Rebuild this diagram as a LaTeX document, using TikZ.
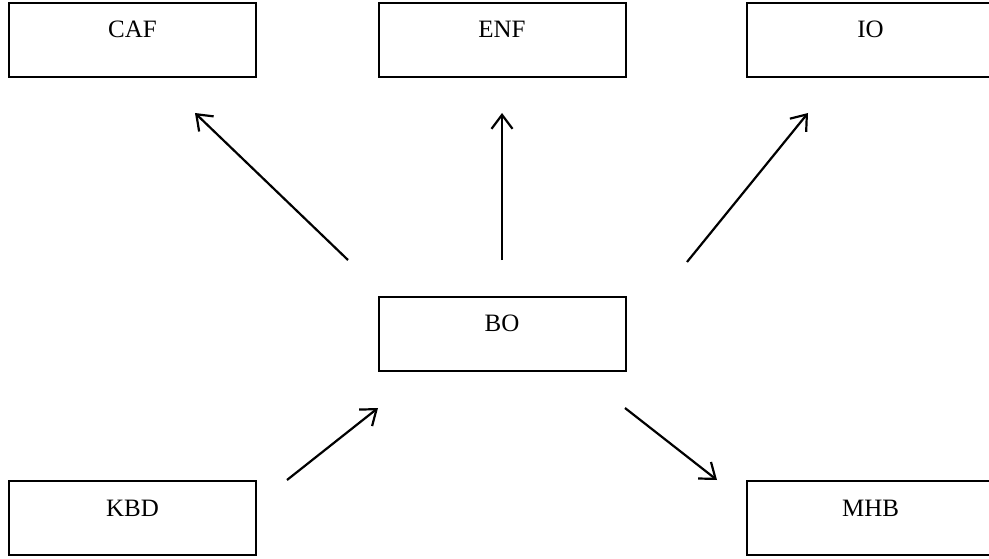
\documentclass[tikz,border=0pt]{standalone}
\usepackage{fontspec}
\setmainfont{Liberation Serif}
\usetikzlibrary{arrows.meta}
\tikzset{
  box/.style={draw, line width=2pt, rectangle, minimum width=247pt, inner xsep=0pt, inner ysep=0pt,
    text height=35pt, text depth=39pt, font=\fontsize{25}{25}\selectfont},
  conn/.style={line width=2.2pt, -{Straight Barb[length=14pt,width=21pt]}}
}
\begin{document}
\begin{tikzpicture}[x=1pt,y=-1pt]
\useasboundingbox (0,0) rectangle (989,559);
\node[box] (caf) at (132.5,40) {CAF};
\node[box] (enf) at (502,40) {ENF};
\node[box] (io) at (870.5,40) {IO};
\node[box] (bo) at (502,333.5) {BO};
\node[box] (kbd) at (132.5,518) {KBD};
\node[box] (mhb) at (870.5,518) {MHB};
\coordinate (a1s) at (348,260); \coordinate (a1e) at (195,113);
\coordinate (a2s) at (502,260); \coordinate (a2e) at (502,113);
\coordinate (a3s) at (687,262); \coordinate (a3e) at (808,113);
\coordinate (a4s) at (287,480); \coordinate (a4e) at (378,408);
\coordinate (a5s) at (625,408); \coordinate (a5e) at (717,480);
\draw[conn] (a1s) -- (a1e);
\draw[conn] (a2s) -- (a2e);
\draw[conn] (a3s) -- (a3e);
\draw[conn] (a4s) -- (a4e);
\draw[conn] (a5s) -- (a5e);
\end{tikzpicture}
\end{document}
